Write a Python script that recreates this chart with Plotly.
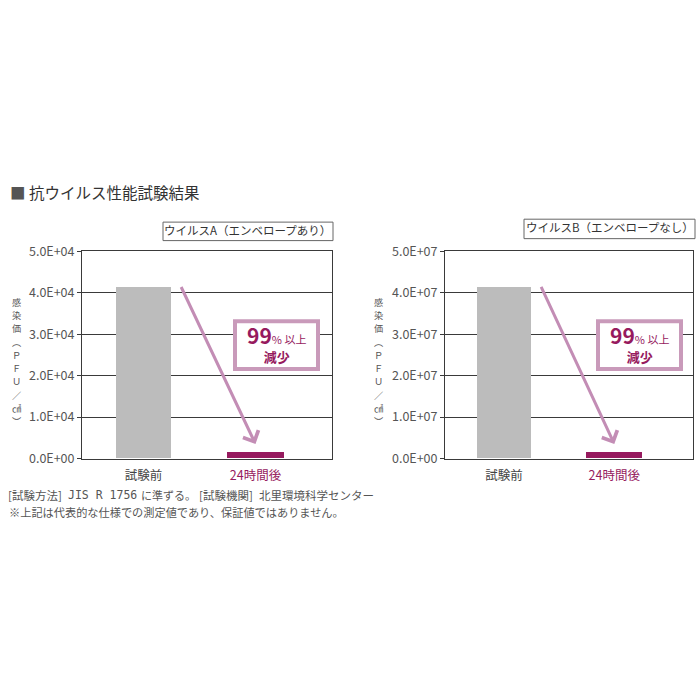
import plotly.graph_objects as go

categories = ["試験前", "24時間後"]
values_a = [4.12e4, 1.6e3]
values_b = [4.13e7, 1.6e6]
ticks_a = [0, 1e4, 2e4, 3e4, 4e4, 5e4]
ticklabels_a = ["0.0E+00", "1.0E+04", "2.0E+04", "3.0E+04", "4.0E+04", "5.0E+04"]
ticks_b = [0, 1e7, 2e7, 3e7, 4e7, 5e7]
ticklabels_b = ["0.0E+00", "1.0E+07", "2.0E+07", "3.0E+07", "4.0E+07", "5.0E+07"]
panel_titles = ["ウイルスA（エンベロープあり）", "ウイルスB（エンベロープなし）"]
ylabel_chars = ["感", "染", "価", "︵", "Ｐ", "Ｆ", "Ｕ", "／", "㎠", "︶"]

FONT = "Noto Sans CJK JP"
GRAY = "#bcbcbc"
MAG = "#961a5e"
ARROW = "#c38db5"
BOXC = "#c99aba"
W, H = 700, 700

def px(x):
    return x / W

def py(y):
    return 1 - y / H

bar_colors = [GRAY, MAG]
bar_widths = [0.49, 0.51]
ticktext_x = [categories[0], f"<span style='color:{MAG}'>{categories[1]}</span>"]

fig = go.Figure()
fig.add_trace(go.Bar(x=[0, 1], y=values_a, marker=dict(color=bar_colors, line=dict(width=0)),
                     width=bar_widths, xaxis="x", yaxis="y", showlegend=False))
fig.add_trace(go.Bar(x=[0, 1], y=values_b, marker=dict(color=bar_colors, line=dict(width=0)),
                     width=bar_widths, xaxis="x2", yaxis="y2", showlegend=False))

axcommon_y = dict(showgrid=True, gridcolor="#3a3a3a", gridwidth=1, showline=True, mirror=True,
                  linecolor="#3a3a3a", linewidth=1, ticks="outside", ticklen=4, tickcolor="#3a3a3a",
                  tickfont=dict(family=FONT, size=12.5, color="#555"), zeroline=False, fixedrange=True)
axcommon_x = dict(showgrid=False, showline=True, mirror=True, linecolor="#3a3a3a", linewidth=1,
                  ticks="", tickvals=[0, 1], ticktext=ticktext_x, zeroline=False, ticklabelstandoff=5,
                  tickfont=dict(family=FONT, size=12.5, color="#444"))

fig.update_layout(
    width=W, height=H, margin=dict(l=0, r=0, t=0, b=0),
    paper_bgcolor="white", plot_bgcolor="white",
    xaxis=dict(domain=[px(82), px(332)], range=[-0.549, 1.683], anchor="y", **axcommon_x),
    yaxis=dict(domain=[py(460), py(247)], range=[0, 5e4], tickvals=ticks_a, ticktext=ticklabels_a,
               anchor="x", **axcommon_y),
    xaxis2=dict(domain=[px(445), px(693)], range=[-0.536, 1.714], anchor="y2", **axcommon_x),
    yaxis2=dict(domain=[py(460), py(247)], range=[0, 5e7], tickvals=ticks_b, ticktext=ticklabels_b,
                anchor="x2", **axcommon_y),
    bargap=0,
)

ann = []
shapes = []
# title
ann.append(dict(text="<span style='color:#555'>■</span> 抗ウイルス性能試験結果", x=px(8), y=py(186),
                xref="paper", yref="paper", xanchor="left", yanchor="middle", showarrow=False,
                font=dict(family=FONT, size=15.5, color="#333")))
# panel titles
for t, x0, x1, y0, y1 in [(panel_titles[0], 163, 333, 217, 236), (panel_titles[1], 524, 695, 214, 234)]:
    shapes.append(dict(type="rect", xref="paper", yref="paper", x0=px(x0), x1=px(x1), y0=py(y1), y1=py(y0),
                       line=dict(color="#666", width=1), fillcolor="white", layer="above"))
    ann.append(dict(text=t, x=px((x0 + x1) / 2), y=py((y0 + y1) / 2 - 1.5), xref="paper", yref="paper",
                    showarrow=False, xanchor="center", yanchor="middle",
                    font=dict(family=FONT, size=11.5, color="#333")))
# y-axis vertical titles (one upright character per line)
for x0 in [16, 378]:
    for i, ch in enumerate(ylabel_chars):
        ann.append(dict(text=ch, x=px(x0), y=py(299 + i * 13.6), xref="paper", yref="paper",
                        showarrow=False, xanchor="center", yanchor="middle",
                        font=dict(family=FONT, size=9.2, color="#555")))
# arrows
for xr, yr, ymax in [("x", "y", 5e4), ("x2", "y2", 5e7)]:
    ann.append(dict(x=1.0, y=ymax * 0.07, ax=0.33, ay=ymax * 0.835, xref=xr, yref=yr,
                    axref=xr, ayref=yr, text="", showarrow=True, arrowhead=4, arrowsize=1.1,
                    arrowwidth=3, arrowcolor=ARROW))
# reduction boxes
box_text = ("<b><span style='font-size:21px'>99</span></b><span style='font-size:11px'>% 以上</span>"
            "<br><b><span style='font-size:13px'>減少</span></b>")
for x0, x1 in [(233, 320), (596, 683)]:
    shapes.append(dict(type="rect", xref="paper", yref="paper", x0=px(x0 + 2), x1=px(x1 - 2),
                       y0=py(368), y1=py(319), line=dict(color=BOXC, width=4), fillcolor="white",
                       layer="above"))
    cx = (x0 + x1) / 2
    ann.append(dict(text=box_text, x=px(cx), y=py(341), xref="paper", yref="paper", showarrow=False,
                    xanchor="center", yanchor="middle", align="center",
                    font=dict(family=FONT, size=14, color=MAG)))
# footer
FOOT = dict(xref="paper", yref="paper", xanchor="left", yanchor="middle", showarrow=False)
ann.append(dict(text="[試験方法]", x=px(6), y=py(497), font=dict(family=FONT, size=11.5, color="#555"), **FOOT))
ann.append(dict(text="JIS R 1756", x=px(66), y=py(498), font=dict(family="DejaVu Sans Mono", size=11.5, color="#555"), **FOOT))
ann.append(dict(text="に準ずる。", x=px(139), y=py(497), font=dict(family=FONT, size=11, color="#555"), **FOOT))
ann.append(dict(text="[試験機関]", x=px(197), y=py(497), font=dict(family=FONT, size=11.5, color="#555"), **FOOT))
ann.append(dict(text="北里環境科学センター", x=px(257), y=py(497), font=dict(family=FONT, size=11.5, color="#555"), **FOOT))
ann.append(dict(text="※上記は代表的な仕様での測定値であり、保証値ではありません。", x=px(7), y=py(515),
                font=dict(family=FONT, size=11.2, color="#555"), **FOOT))
fig.update_layout(annotations=ann, shapes=shapes)

fig.write_html("out.html")
